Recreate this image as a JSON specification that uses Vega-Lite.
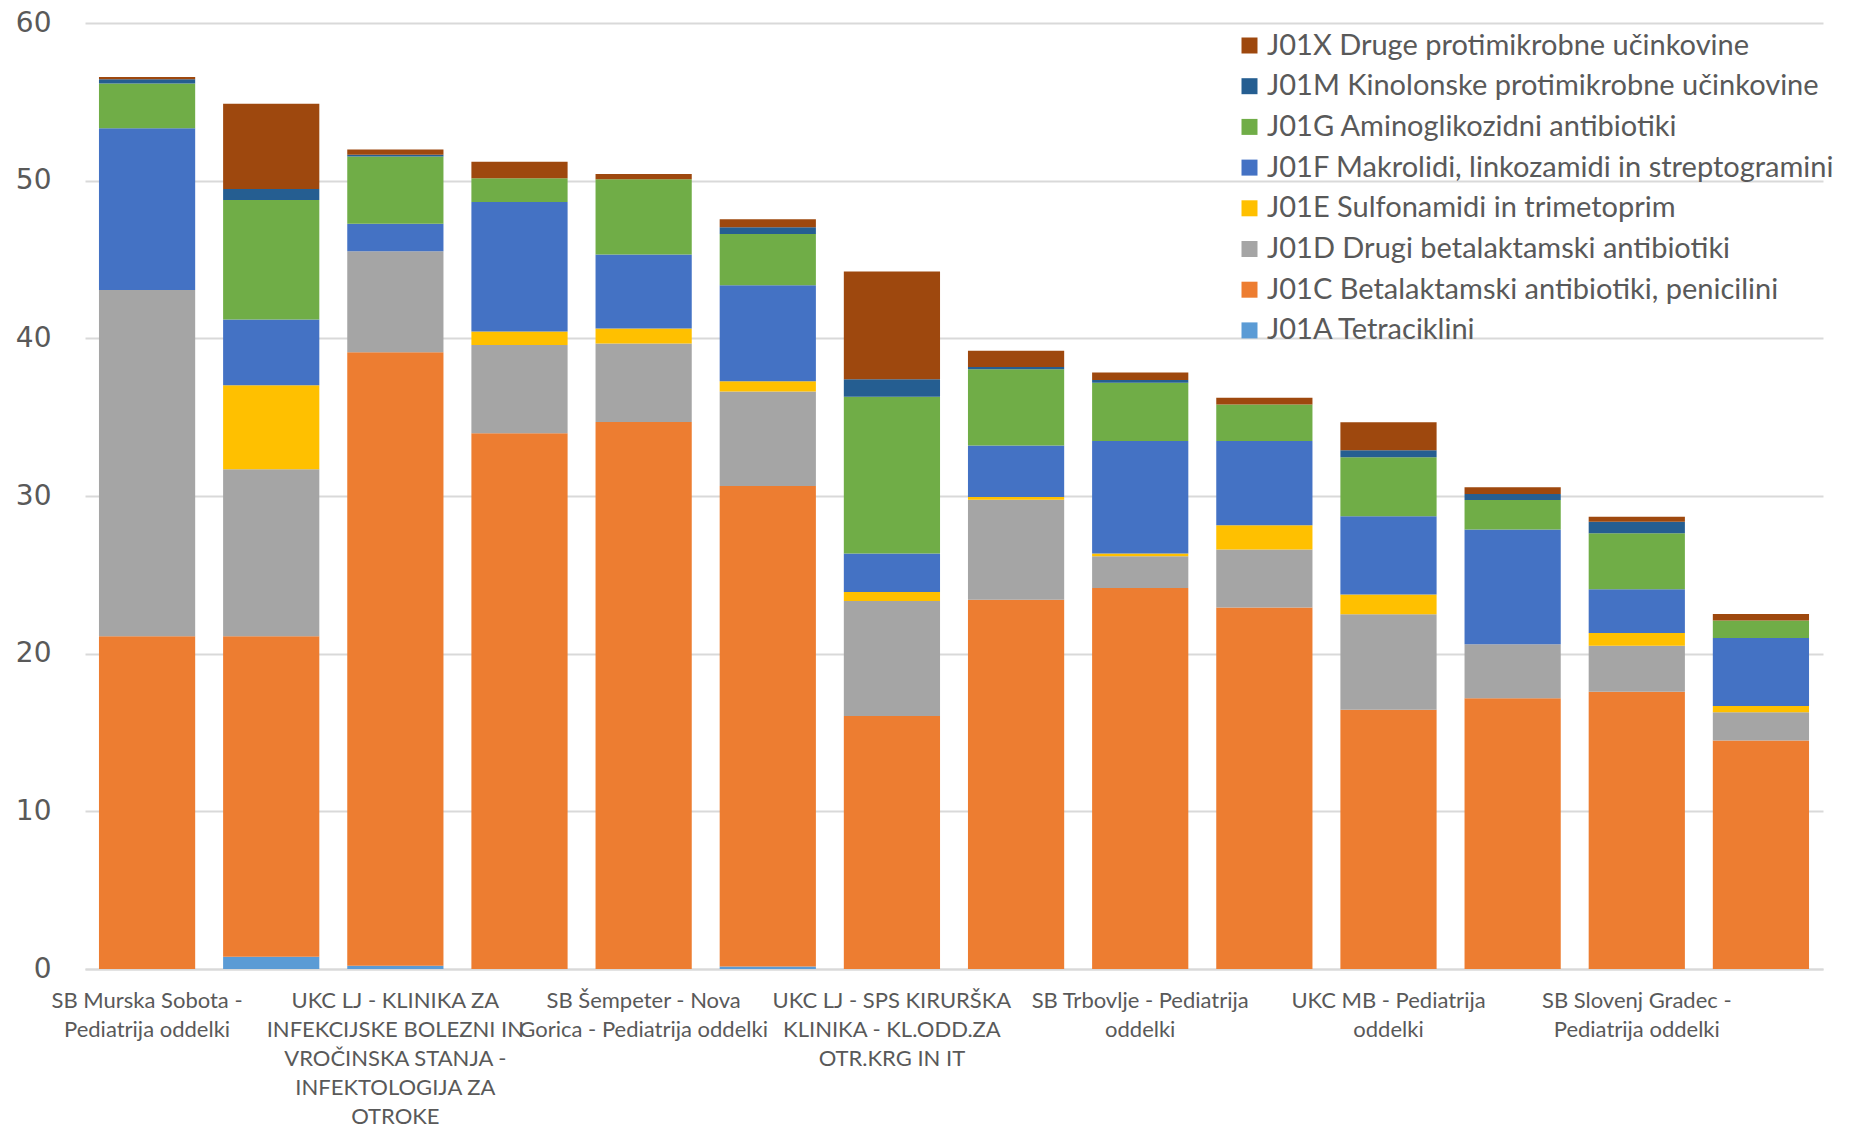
{
  "$schema": "https://vega.github.io/schema/vega-lite/v6.json",
  "width": 1738,
  "height": 946,
  "autosize": {"type": "none"},
  "padding": {"left": 85, "top": 23, "right": 30, "bottom": 158},
  "background": "white",
  "config": {"view": {"stroke": null}},
  "data": {"values": [
    {"oddelek": "SB Murska Sobota - Pediatrija oddelki", "skupina": "J01C Betalaktamski antibiotiki, penicilini", "vrednost": 21.10},
    {"oddelek": "SB Murska Sobota - Pediatrija oddelki", "skupina": "J01D Drugi betalaktamski antibiotiki", "vrednost": 21.97},
    {"oddelek": "SB Murska Sobota - Pediatrija oddelki", "skupina": "J01F Makrolidi, linkozamidi in streptogramini", "vrednost": 10.26},
    {"oddelek": "SB Murska Sobota - Pediatrija oddelki", "skupina": "J01G Aminoglikozidni antibiotiki", "vrednost": 2.84},
    {"oddelek": "SB Murska Sobota - Pediatrija oddelki", "skupina": "J01M Kinolonske protimikrobne učinkovine", "vrednost": 0.26},
    {"oddelek": "SB Murska Sobota - Pediatrija oddelki", "skupina": "J01X Druge protimikrobne učinkovine", "vrednost": 0.15},

    {"oddelek": "Oddelek 2", "skupina": "J01A Tetraciklini", "vrednost": 0.78},
    {"oddelek": "Oddelek 2", "skupina": "J01C Betalaktamski antibiotiki, penicilini", "vrednost": 20.32},
    {"oddelek": "Oddelek 2", "skupina": "J01D Drugi betalaktamski antibiotiki", "vrednost": 10.59},
    {"oddelek": "Oddelek 2", "skupina": "J01E Sulfonamidi in trimetoprim", "vrednost": 5.34},
    {"oddelek": "Oddelek 2", "skupina": "J01F Makrolidi, linkozamidi in streptogramini", "vrednost": 4.16},
    {"oddelek": "Oddelek 2", "skupina": "J01G Aminoglikozidni antibiotiki", "vrednost": 7.58},
    {"oddelek": "Oddelek 2", "skupina": "J01M Kinolonske protimikrobne učinkovine", "vrednost": 0.70},
    {"oddelek": "Oddelek 2", "skupina": "J01X Druge protimikrobne učinkovine", "vrednost": 5.41},

    {"oddelek": "UKC LJ - KLINIKA ZA INFEKCIJSKE BOLEZNI IN VROČINSKA STANJA - INFEKTOLOGIJA ZA OTROKE", "skupina": "J01A Tetraciklini", "vrednost": 0.21},
    {"oddelek": "UKC LJ - KLINIKA ZA INFEKCIJSKE BOLEZNI IN VROČINSKA STANJA - INFEKTOLOGIJA ZA OTROKE", "skupina": "J01C Betalaktamski antibiotiki, penicilini", "vrednost": 38.90},
    {"oddelek": "UKC LJ - KLINIKA ZA INFEKCIJSKE BOLEZNI IN VROČINSKA STANJA - INFEKTOLOGIJA ZA OTROKE", "skupina": "J01D Drugi betalaktamski antibiotiki", "vrednost": 6.41},
    {"oddelek": "UKC LJ - KLINIKA ZA INFEKCIJSKE BOLEZNI IN VROČINSKA STANJA - INFEKTOLOGIJA ZA OTROKE", "skupina": "J01F Makrolidi, linkozamidi in streptogramini", "vrednost": 1.74},
    {"oddelek": "UKC LJ - KLINIKA ZA INFEKCIJSKE BOLEZNI IN VROČINSKA STANJA - INFEKTOLOGIJA ZA OTROKE", "skupina": "J01G Aminoglikozidni antibiotiki", "vrednost": 4.28},
    {"oddelek": "UKC LJ - KLINIKA ZA INFEKCIJSKE BOLEZNI IN VROČINSKA STANJA - INFEKTOLOGIJA ZA OTROKE", "skupina": "J01M Kinolonske protimikrobne učinkovine", "vrednost": 0.10},
    {"oddelek": "UKC LJ - KLINIKA ZA INFEKCIJSKE BOLEZNI IN VROČINSKA STANJA - INFEKTOLOGIJA ZA OTROKE", "skupina": "J01X Druge protimikrobne učinkovine", "vrednost": 0.34},

    {"oddelek": "Oddelek 4", "skupina": "J01C Betalaktamski antibiotiki, penicilini", "vrednost": 33.98},
    {"oddelek": "Oddelek 4", "skupina": "J01D Drugi betalaktamski antibiotiki", "vrednost": 5.60},
    {"oddelek": "Oddelek 4", "skupina": "J01E Sulfonamidi in trimetoprim", "vrednost": 0.85},
    {"oddelek": "Oddelek 4", "skupina": "J01F Makrolidi, linkozamidi in streptogramini", "vrednost": 8.22},
    {"oddelek": "Oddelek 4", "skupina": "J01G Aminoglikozidni antibiotiki", "vrednost": 1.50},
    {"oddelek": "Oddelek 4", "skupina": "J01X Druge protimikrobne učinkovine", "vrednost": 1.05},

    {"oddelek": "SB Šempeter - Nova Gorica - Pediatrija oddelki", "skupina": "J01C Betalaktamski antibiotiki, penicilini", "vrednost": 34.69},
    {"oddelek": "SB Šempeter - Nova Gorica - Pediatrija oddelki", "skupina": "J01D Drugi betalaktamski antibiotiki", "vrednost": 4.98},
    {"oddelek": "SB Šempeter - Nova Gorica - Pediatrija oddelki", "skupina": "J01E Sulfonamidi in trimetoprim", "vrednost": 0.95},
    {"oddelek": "SB Šempeter - Nova Gorica - Pediatrija oddelki", "skupina": "J01F Makrolidi, linkozamidi in streptogramini", "vrednost": 4.69},
    {"oddelek": "SB Šempeter - Nova Gorica - Pediatrija oddelki", "skupina": "J01G Aminoglikozidni antibiotiki", "vrednost": 4.78},
    {"oddelek": "SB Šempeter - Nova Gorica - Pediatrija oddelki", "skupina": "J01X Druge protimikrobne učinkovine", "vrednost": 0.33},

    {"oddelek": "Oddelek 6", "skupina": "J01A Tetraciklini", "vrednost": 0.16},
    {"oddelek": "Oddelek 6", "skupina": "J01C Betalaktamski antibiotiki, penicilini", "vrednost": 30.47},
    {"oddelek": "Oddelek 6", "skupina": "J01D Drugi betalaktamski antibiotiki", "vrednost": 6.00},
    {"oddelek": "Oddelek 6", "skupina": "J01E Sulfonamidi in trimetoprim", "vrednost": 0.65},
    {"oddelek": "Oddelek 6", "skupina": "J01F Makrolidi, linkozamidi in streptogramini", "vrednost": 6.09},
    {"oddelek": "Oddelek 6", "skupina": "J01G Aminoglikozidni antibiotiki", "vrednost": 3.24},
    {"oddelek": "Oddelek 6", "skupina": "J01M Kinolonske protimikrobne učinkovine", "vrednost": 0.43},
    {"oddelek": "Oddelek 6", "skupina": "J01X Druge protimikrobne učinkovine", "vrednost": 0.52},

    {"oddelek": "UKC LJ - SPS KIRURŠKA KLINIKA - KL.ODD.ZA OTR.KRG IN IT", "skupina": "J01C Betalaktamski antibiotiki, penicilini", "vrednost": 16.04},
    {"oddelek": "UKC LJ - SPS KIRURŠKA KLINIKA - KL.ODD.ZA OTR.KRG IN IT", "skupina": "J01D Drugi betalaktamski antibiotiki", "vrednost": 7.30},
    {"oddelek": "UKC LJ - SPS KIRURŠKA KLINIKA - KL.ODD.ZA OTR.KRG IN IT", "skupina": "J01E Sulfonamidi in trimetoprim", "vrednost": 0.57},
    {"oddelek": "UKC LJ - SPS KIRURŠKA KLINIKA - KL.ODD.ZA OTR.KRG IN IT", "skupina": "J01F Makrolidi, linkozamidi in streptogramini", "vrednost": 2.44},
    {"oddelek": "UKC LJ - SPS KIRURŠKA KLINIKA - KL.ODD.ZA OTR.KRG IN IT", "skupina": "J01G Aminoglikozidni antibiotiki", "vrednost": 9.94},
    {"oddelek": "UKC LJ - SPS KIRURŠKA KLINIKA - KL.ODD.ZA OTR.KRG IN IT", "skupina": "J01M Kinolonske protimikrobne učinkovine", "vrednost": 1.12},
    {"oddelek": "UKC LJ - SPS KIRURŠKA KLINIKA - KL.ODD.ZA OTR.KRG IN IT", "skupina": "J01X Druge protimikrobne učinkovine", "vrednost": 6.83},

    {"oddelek": "Oddelek 8", "skupina": "J01C Betalaktamski antibiotiki, penicilini", "vrednost": 23.42},
    {"oddelek": "Oddelek 8", "skupina": "J01D Drugi betalaktamski antibiotiki", "vrednost": 6.35},
    {"oddelek": "Oddelek 8", "skupina": "J01E Sulfonamidi in trimetoprim", "vrednost": 0.17},
    {"oddelek": "Oddelek 8", "skupina": "J01F Makrolidi, linkozamidi in streptogramini", "vrednost": 3.27},
    {"oddelek": "Oddelek 8", "skupina": "J01G Aminoglikozidni antibiotiki", "vrednost": 4.83},
    {"oddelek": "Oddelek 8", "skupina": "J01M Kinolonske protimikrobne učinkovine", "vrednost": 0.14},
    {"oddelek": "Oddelek 8", "skupina": "J01X Druge protimikrobne učinkovine", "vrednost": 1.03},

    {"oddelek": "SB Trbovlje - Pediatrija oddelki", "skupina": "J01C Betalaktamski antibiotiki, penicilini", "vrednost": 24.16},
    {"oddelek": "SB Trbovlje - Pediatrija oddelki", "skupina": "J01D Drugi betalaktamski antibiotiki", "vrednost": 2.02},
    {"oddelek": "SB Trbovlje - Pediatrija oddelki", "skupina": "J01E Sulfonamidi in trimetoprim", "vrednost": 0.18},
    {"oddelek": "SB Trbovlje - Pediatrija oddelki", "skupina": "J01F Makrolidi, linkozamidi in streptogramini", "vrednost": 7.13},
    {"oddelek": "SB Trbovlje - Pediatrija oddelki", "skupina": "J01G Aminoglikozidni antibiotiki", "vrednost": 3.69},
    {"oddelek": "SB Trbovlje - Pediatrija oddelki", "skupina": "J01M Kinolonske protimikrobne učinkovine", "vrednost": 0.18},
    {"oddelek": "SB Trbovlje - Pediatrija oddelki", "skupina": "J01X Druge protimikrobne učinkovine", "vrednost": 0.47},

    {"oddelek": "Oddelek 10", "skupina": "J01C Betalaktamski antibiotiki, penicilini", "vrednost": 22.93},
    {"oddelek": "Oddelek 10", "skupina": "J01D Drugi betalaktamski antibiotiki", "vrednost": 3.67},
    {"oddelek": "Oddelek 10", "skupina": "J01E Sulfonamidi in trimetoprim", "vrednost": 1.54},
    {"oddelek": "Oddelek 10", "skupina": "J01F Makrolidi, linkozamidi in streptogramini", "vrednost": 5.35},
    {"oddelek": "Oddelek 10", "skupina": "J01G Aminoglikozidni antibiotiki", "vrednost": 2.32},
    {"oddelek": "Oddelek 10", "skupina": "J01X Druge protimikrobne učinkovine", "vrednost": 0.42},

    {"oddelek": "UKC MB - Pediatrija oddelki", "skupina": "J01C Betalaktamski antibiotiki, penicilini", "vrednost": 16.44},
    {"oddelek": "UKC MB - Pediatrija oddelki", "skupina": "J01D Drugi betalaktamski antibiotiki", "vrednost": 6.06},
    {"oddelek": "UKC MB - Pediatrija oddelki", "skupina": "J01E Sulfonamidi in trimetoprim", "vrednost": 1.25},
    {"oddelek": "UKC MB - Pediatrija oddelki", "skupina": "J01F Makrolidi, linkozamidi in streptogramini", "vrednost": 4.96},
    {"oddelek": "UKC MB - Pediatrija oddelki", "skupina": "J01G Aminoglikozidni antibiotiki", "vrednost": 3.75},
    {"oddelek": "UKC MB - Pediatrija oddelki", "skupina": "J01M Kinolonske protimikrobne učinkovine", "vrednost": 0.44},
    {"oddelek": "UKC MB - Pediatrija oddelki", "skupina": "J01X Druge protimikrobne učinkovine", "vrednost": 1.77},

    {"oddelek": "Oddelek 12", "skupina": "J01C Betalaktamski antibiotiki, penicilini", "vrednost": 17.18},
    {"oddelek": "Oddelek 12", "skupina": "J01D Drugi betalaktamski antibiotiki", "vrednost": 3.41},
    {"oddelek": "Oddelek 12", "skupina": "J01F Makrolidi, linkozamidi in streptogramini", "vrednost": 7.29},
    {"oddelek": "Oddelek 12", "skupina": "J01G Aminoglikozidni antibiotiki", "vrednost": 1.86},
    {"oddelek": "Oddelek 12", "skupina": "J01M Kinolonske protimikrobne učinkovine", "vrednost": 0.39},
    {"oddelek": "Oddelek 12", "skupina": "J01X Druge protimikrobne učinkovine", "vrednost": 0.42},

    {"oddelek": "SB Slovenj Gradec - Pediatrija oddelki", "skupina": "J01C Betalaktamski antibiotiki, penicilini", "vrednost": 17.59},
    {"oddelek": "SB Slovenj Gradec - Pediatrija oddelki", "skupina": "J01D Drugi betalaktamski antibiotiki", "vrednost": 2.91},
    {"oddelek": "SB Slovenj Gradec - Pediatrija oddelki", "skupina": "J01E Sulfonamidi in trimetoprim", "vrednost": 0.81},
    {"oddelek": "SB Slovenj Gradec - Pediatrija oddelki", "skupina": "J01F Makrolidi, linkozamidi in streptogramini", "vrednost": 2.77},
    {"oddelek": "SB Slovenj Gradec - Pediatrija oddelki", "skupina": "J01G Aminoglikozidni antibiotiki", "vrednost": 3.55},
    {"oddelek": "SB Slovenj Gradec - Pediatrija oddelki", "skupina": "J01M Kinolonske protimikrobne učinkovine", "vrednost": 0.73},
    {"oddelek": "SB Slovenj Gradec - Pediatrija oddelki", "skupina": "J01X Druge protimikrobne učinkovine", "vrednost": 0.32},

    {"oddelek": "Oddelek 14", "skupina": "J01C Betalaktamski antibiotiki, penicilini", "vrednost": 14.50},
    {"oddelek": "Oddelek 14", "skupina": "J01D Drugi betalaktamski antibiotiki", "vrednost": 1.78},
    {"oddelek": "Oddelek 14", "skupina": "J01E Sulfonamidi in trimetoprim", "vrednost": 0.40},
    {"oddelek": "Oddelek 14", "skupina": "J01F Makrolidi, linkozamidi in streptogramini", "vrednost": 4.31},
    {"oddelek": "Oddelek 14", "skupina": "J01G Aminoglikozidni antibiotiki", "vrednost": 1.12},
    {"oddelek": "Oddelek 14", "skupina": "J01X Druge protimikrobne učinkovine", "vrednost": 0.40}
  ]},
  "mark": {"type": "bar"},
  "encoding": {
    "x": {
      "field": "oddelek",
      "type": "nominal",
      "sort": null,
      "scale": {"paddingInner": 0.225, "paddingOuter": 0.1125},
      "axis": {
        "title": null,
        "labelAngle": 0,
        "labelAlign": "center",
        "labelBaseline": "top",
        "labelPadding": 21,
        "labelFont": "Lato",
        "labelFontSize": 22,
        "labelLineHeight": 29,
        "labelColor": "#595959",
        "labelLimit": 0,
        "labelOverlap": false,
        "ticks": false,
        "domain": true,
        "domainColor": "#d9d9d9",
        "domainWidth": 2,
        "labelExpr": "({'SB Murska Sobota - Pediatrija oddelki': ['SB Murska Sobota -', 'Pediatrija oddelki'], 'UKC LJ - KLINIKA ZA INFEKCIJSKE BOLEZNI IN VROČINSKA STANJA - INFEKTOLOGIJA ZA OTROKE': ['UKC LJ - KLINIKA ZA', 'INFEKCIJSKE BOLEZNI IN', 'VROČINSKA STANJA -', 'INFEKTOLOGIJA ZA', 'OTROKE'], 'SB Šempeter - Nova Gorica - Pediatrija oddelki': ['SB Šempeter - Nova', 'Gorica - Pediatrija oddelki'], 'UKC LJ - SPS KIRURŠKA KLINIKA - KL.ODD.ZA OTR.KRG IN IT': ['UKC LJ - SPS KIRURŠKA', 'KLINIKA - KL.ODD.ZA', 'OTR.KRG IN IT'], 'SB Trbovlje - Pediatrija oddelki': ['SB Trbovlje - Pediatrija', 'oddelki'], 'UKC MB - Pediatrija oddelki': ['UKC MB - Pediatrija', 'oddelki'], 'SB Slovenj Gradec - Pediatrija oddelki': ['SB Slovenj Gradec -', 'Pediatrija oddelki']})[datum.label] || ''"
      }
    },
    "y": {
      "field": "vrednost",
      "type": "quantitative",
      "aggregate": "sum",
      "stack": "zero",
      "scale": {"domain": [0, 60], "nice": false},
      "axis": {
        "title": null,
        "values": [0, 10, 20, 30, 40, 50, 60],
        "labelFont": "DejaVu Sans",
        "labelFontSize": 28,
        "labelColor": "#595959",
        "labelPadding": 34,
        "ticks": false,
        "domain": false,
        "gridColor": "#d9d9d9",
        "gridWidth": 2
      }
    },
    "color": {
      "field": "skupina",
      "type": "nominal",
      "scale": {
        "domain": [
          "J01X Druge protimikrobne učinkovine",
          "J01M Kinolonske protimikrobne učinkovine",
          "J01G Aminoglikozidni antibiotiki",
          "J01F Makrolidi, linkozamidi in streptogramini",
          "J01E Sulfonamidi in trimetoprim",
          "J01D Drugi betalaktamski antibiotiki",
          "J01C Betalaktamski antibiotiki, penicilini",
          "J01A Tetraciklini"
        ],
        "range": ["#9e480e", "#255e91", "#70ad47", "#4472c4", "#ffc000", "#a5a5a5", "#ed7d31", "#5b9bd5"]
      },
      "legend": {
        "title": null,
        "orient": "none",
        "legendX": 1150,
        "legendY": 8,
        "symbolType": "square",
        "symbolSize": 256,
        "symbolStrokeWidth": 0,
        "labelFont": "Lato",
        "labelFontSize": 29,
        "labelColor": "#595959",
        "labelLimit": 800,
        "labelOffset": 3,
        "rowPadding": 10.7
      }
    },
    "order": {"field": "skupina", "sort": "ascending"}
  }
}
